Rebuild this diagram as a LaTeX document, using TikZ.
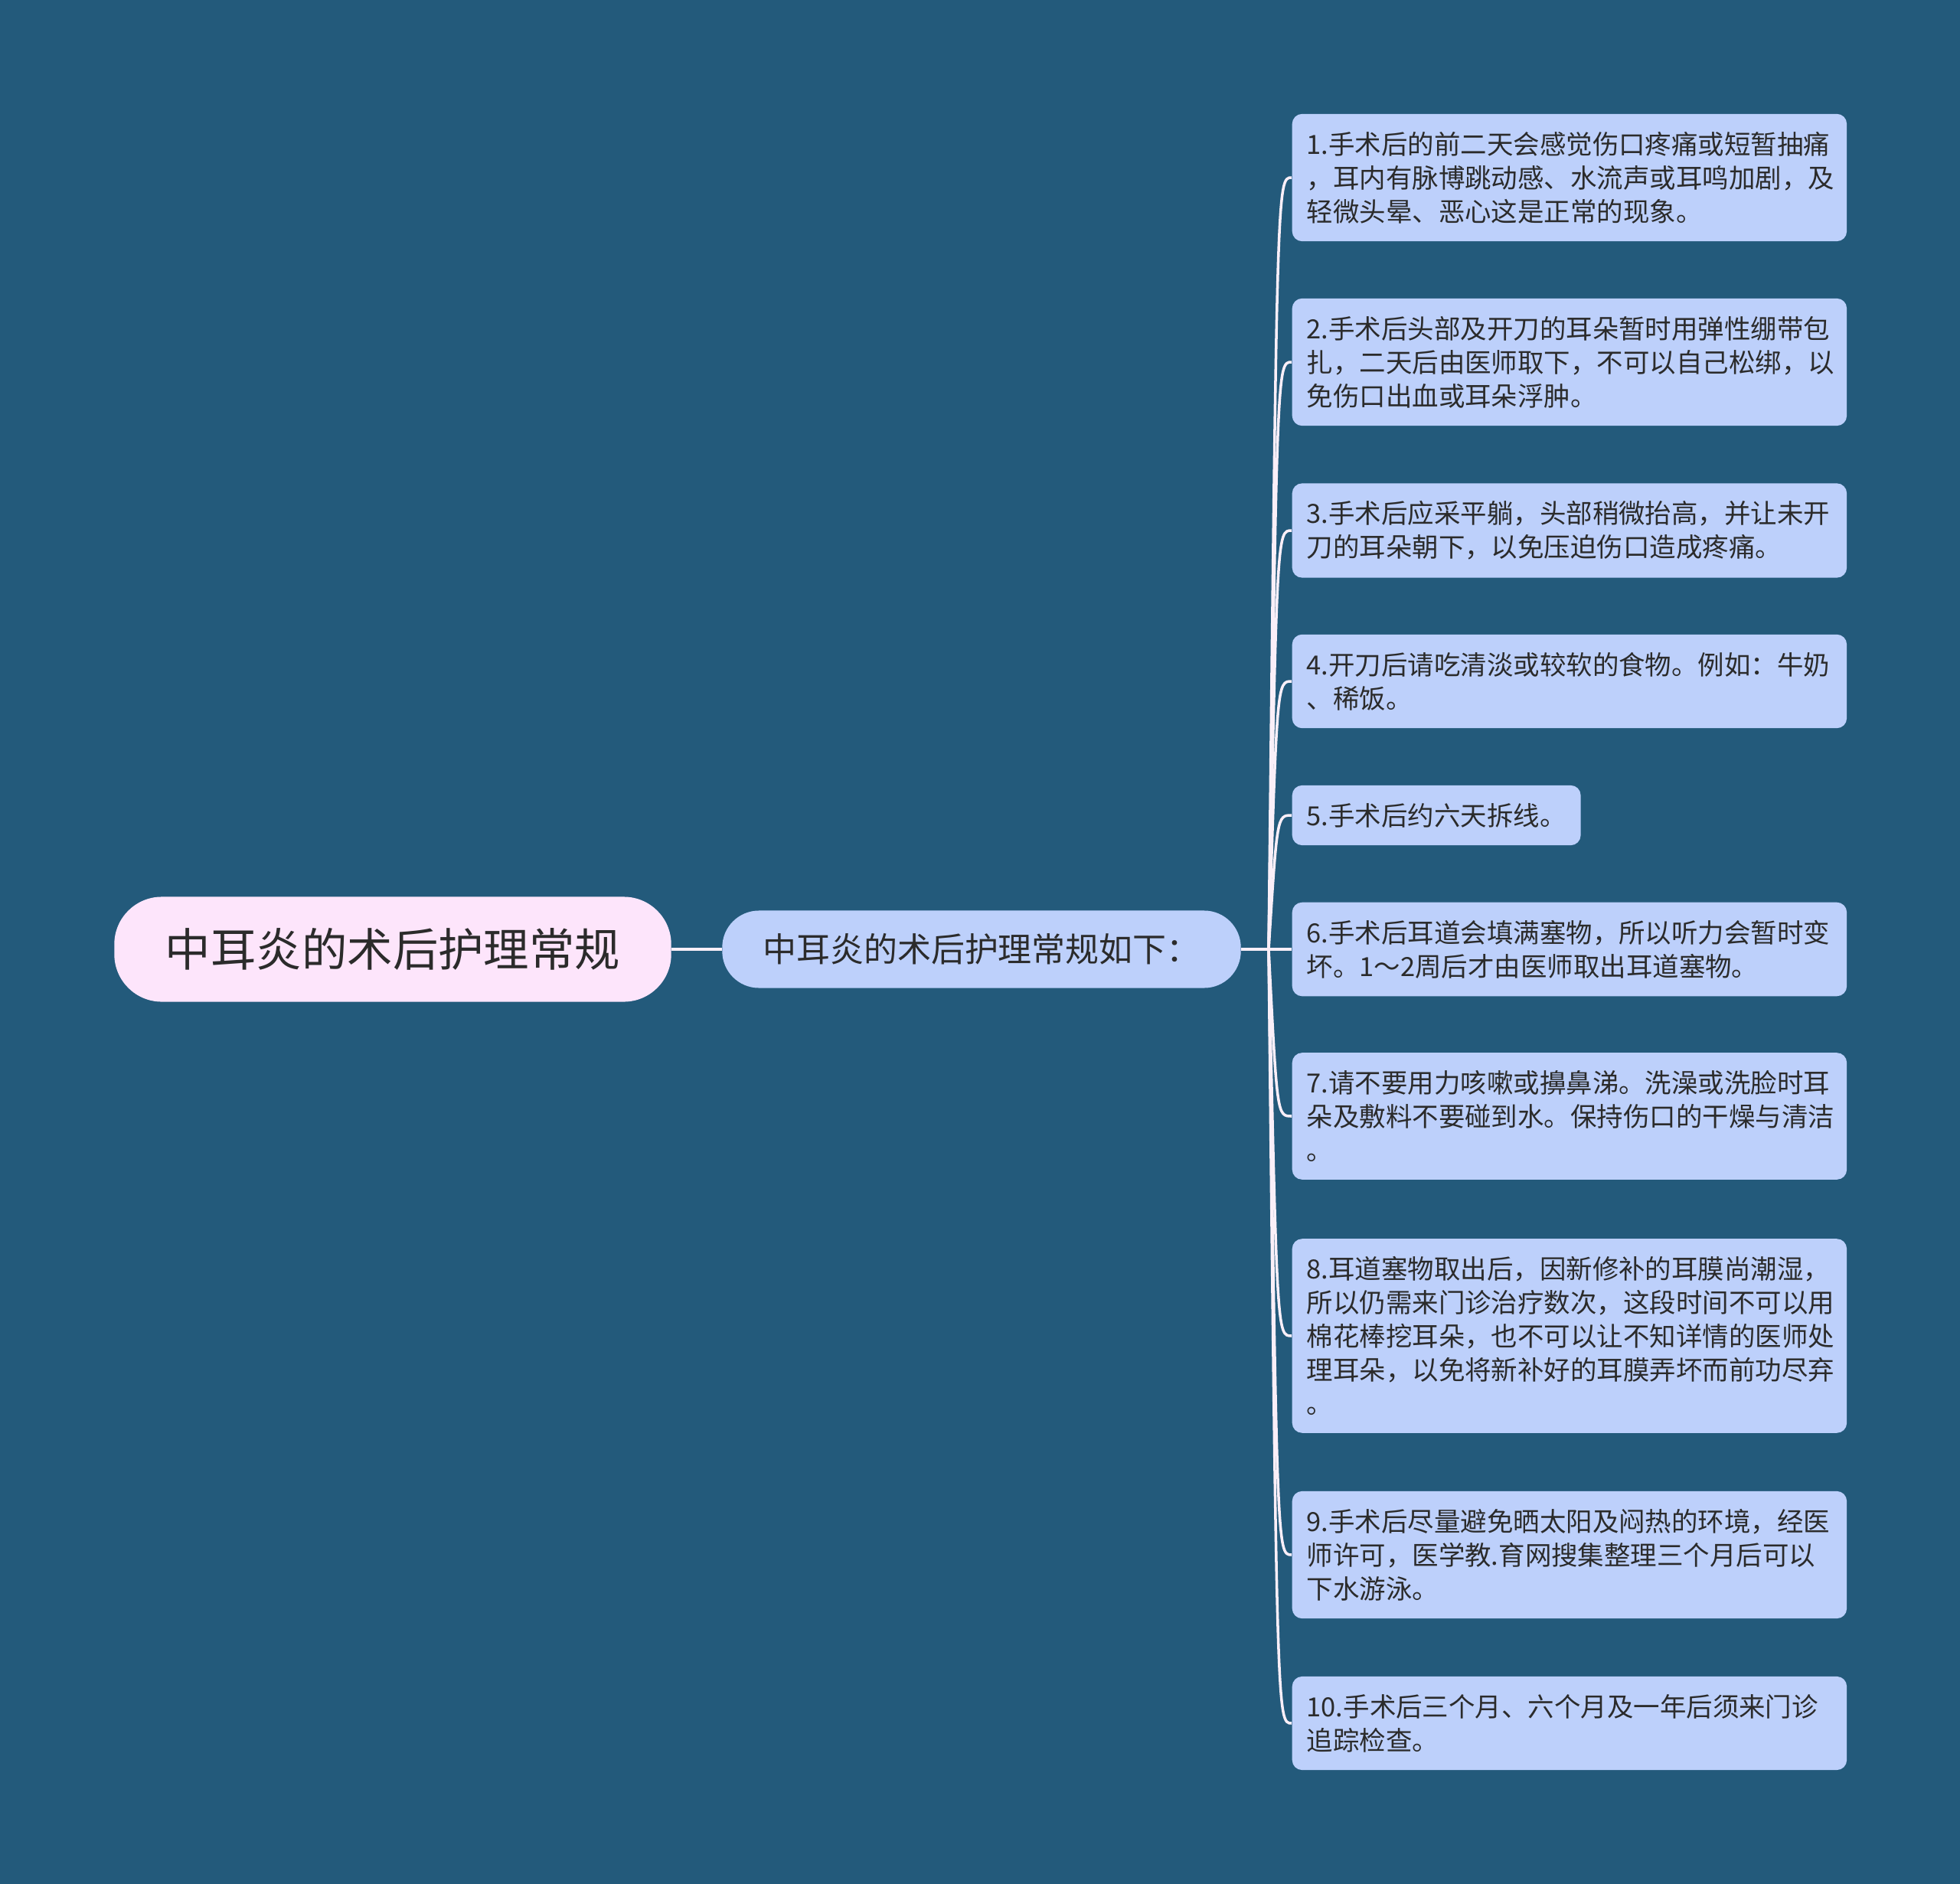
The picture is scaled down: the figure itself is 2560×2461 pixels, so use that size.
\documentclass[tikz,border=0pt]{standalone}
\usepackage{fontspec}
\newfontfamily\cjkfont{Noto Sans CJK SC}
\definecolor{bgblue}{HTML}{235A7B}
\definecolor{tipfill}{HTML}{BDD0FB}
\definecolor{rootfill}{HTML}{FDE5FB}
\definecolor{inkgray}{HTML}{2B2B2B}
\definecolor{linewhite}{HTML}{FAEFF8}
\tikzset{
  rootbox/.style={fill=rootfill, text=inkgray, rounded corners=0.62cm,
    minimum width=7.27cm, minimum height=1.37cm, inner sep=0pt,
    font=\cjkfont\fontsize{16.9}{20}\selectfont},
  summarybox/.style={fill=tipfill, text=inkgray, rounded corners=0.48cm,
    minimum width=6.77cm, minimum height=1.01cm, inner sep=0pt,
    font=\cjkfont\fontsize{12.5}{15}\selectfont},
  tipbox/.style={fill=tipfill, text=inkgray, rounded corners=0.13cm,
    anchor=west, align=left, text width=6.86cm, inner xsep=0.19cm, inner ysep=6.6pt,
    font=\cjkfont\fontsize{9.8}{12.5}\selectfont},
  branch/.style={draw=linewhite, line width=1pt}
}
\begin{document}
\begin{tikzpicture}[x=0.01cm,y=-0.01cm]
  \fill[bgblue] (0,0) rectangle (2560,2461);
  \node (root) at (513,1240) [rootbox] {中耳炎的术后护理常规};
  \node (summary) at (1282,1240) [summarybox] {中耳炎的术后护理常规如下：};
  \coordinate (hub) at (1657,1240);
  \coordinate (bend) at (1668,1240);

  \node (tip_1) at (1687,232) [tipbox] {1.手术后的前二天会感觉伤口疼痛或短暂抽痛\\，耳内有脉博跳动感、水流声或耳鸣加剧，及\\轻微头晕、恶心这是正常的现象。};
  \node (tip_2) at (1687,473) [tipbox] {2.手术后头部及开刀的耳朵暂时用弹性绷带包\\扎，二天后由医师取下，不可以自己松绑，以\\免伤口出血或耳朵浮肿。};
  \node (tip_3) at (1687,693) [tipbox] {3.手术后应采平躺，头部稍微抬高，并让未开\\刀的耳朵朝下，以免压迫伤口造成疼痛。};
  \node (tip_4) at (1687,890) [tipbox] {4.开刀后请吃清淡或较软的食物。例如：牛奶\\、稀饭。};
  \node (tip_5) at (1687,1065) [tipbox, text width=] {5.手术后约六天拆线。};
  \node (tip_6) at (1687,1240) [tipbox] {6.手术后耳道会填满塞物，所以听力会暂时变\\坏。1～2周后才由医师取出耳道塞物。};
  \node (tip_7) at (1687,1458) [tipbox] {7.请不要用力咳嗽或擤鼻涕。洗澡或洗脸时耳\\朵及敷料不要碰到水。保持伤口的干燥与清洁\\。};
  \node (tip_8) at (1687,1745) [tipbox] {8.耳道塞物取出后，因新修补的耳膜尚潮湿，\\所以仍需来门诊治疗数次，这段时间不可以用\\棉花棒挖耳朵，也不可以让不知详情的医师处\\理耳朵，以免将新补好的耳膜弄坏而前功尽弃\\。};
  \node (tip_9) at (1687,2031) [tipbox] {9.手术后尽量避免晒太阳及闷热的环境，经医\\师许可，医学教.育网搜集整理三个月后可以\\下水游泳。};
  \node (tip_10) at (1687,2251) [tipbox] {10.手术后三个月、六个月及一年后须来门诊\\追踪检查。};

  \draw[branch] (root.east) -- (summary.west);
  \draw[branch] (summary.east) -- (hub);
  \draw[branch] (hub) .. controls (bend |- tip_1.west) .. (tip_1.west);
  \draw[branch] (hub) .. controls (bend |- tip_2.west) .. (tip_2.west);
  \draw[branch] (hub) .. controls (bend |- tip_3.west) .. (tip_3.west);
  \draw[branch] (hub) .. controls (bend |- tip_4.west) .. (tip_4.west);
  \draw[branch] (hub) .. controls (bend |- tip_5.west) .. (tip_5.west);
  \draw[branch] (hub) -- (tip_6.west);
  \draw[branch] (hub) .. controls (bend |- tip_7.west) .. (tip_7.west);
  \draw[branch] (hub) .. controls (bend |- tip_8.west) .. (tip_8.west);
  \draw[branch] (hub) .. controls (bend |- tip_9.west) .. (tip_9.west);
  \draw[branch] (hub) .. controls (bend |- tip_10.west) .. (tip_10.west);
\end{tikzpicture}
\end{document}
